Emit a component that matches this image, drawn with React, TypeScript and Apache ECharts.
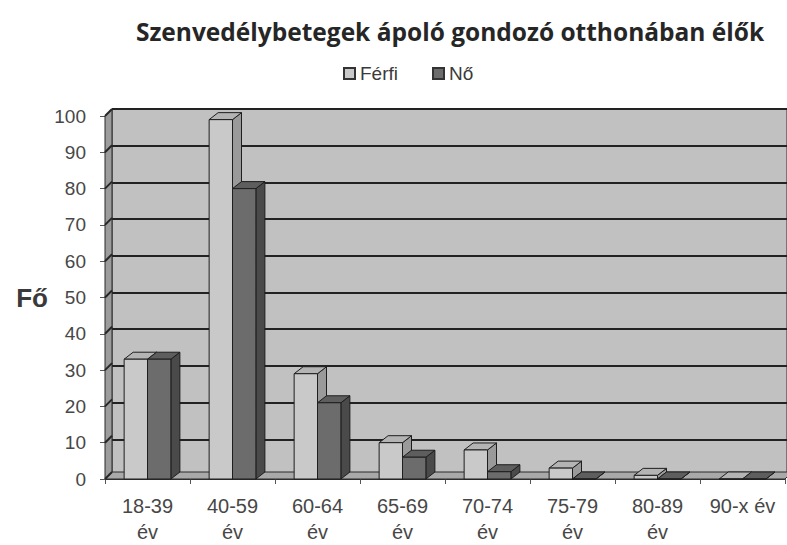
import React, { useEffect, useRef } from "react";
import * as echarts from "echarts";

const TITLE = "Szenvedélybetegek ápoló gondozó otthonában élők";
const CATEGORIES = ["18-39\név", "40-59\név", "60-64\név", "65-69\név", "70-74\név", "75-79\név", "80-89\név", "90-x év"];
const SERIES_NAMES = ["Férfi", "Nő"];
const FERFI = [33, 99, 29, 10, 8, 3, 1, 0];
const NO = [33, 80, 21, 6, 2, 0, 0, 0];
const Y_TICKS = [0, 10, 20, 30, 40, 50, 60, 70, 80, 90, 100];

const WALL_DX = 7;
const WALL_DY = -7;
const BAR_DX = 9;
const BAR_DY = -7;

function barRenderer(side: number, front: string, top: string, sideCol: string) {
  return (params: any, api: any) => {
    const idx = api.value(0);
    const val = api.value(1);
    const base = api.coord([idx, 0]);
    const tp = api.coord([idx, val]);
    const band = api.size([1, 0])[0];
    const w = band * 0.275;
    const left = side < 0 ? base[0] - w : base[0];
    const right = left + w;
    const y0 = base[1];
    const y1 = tp[1];
    const stroke = { stroke: "#1e1e1e", lineWidth: 1 };
    return {
      type: "group",
      children: [
        {
          type: "polygon",
          shape: { points: [[right, y1], [right + BAR_DX, y1 + BAR_DY], [right + BAR_DX, y0 + BAR_DY], [right, y0]] },
          style: { fill: sideCol, ...stroke },
        },
        {
          type: "polygon",
          shape: { points: [[left, y1], [right, y1], [right + BAR_DX, y1 + BAR_DY], [left + BAR_DX, y1 + BAR_DY]] },
          style: { fill: top, ...stroke },
        },
        {
          type: "rect",
          shape: { x: left, y: y1, width: w, height: Math.max(0, y0 - y1) },
          style: { fill: front, ...stroke },
        },
      ],
    };
  };
}

function wallRenderer(params: any, api: any) {
  const cs = params.coordSys;
  const x0 = cs.x;
  const yTop = cs.y;
  const yBot = cs.y + cs.height;
  const x1 = cs.x + cs.width;
  const children: any[] = [
    {
      type: "polygon",
      shape: { points: [[x0, yTop], [x0 + WALL_DX, yTop + WALL_DY], [x0 + WALL_DX, yBot + WALL_DY], [x0, yBot]] },
      style: { fill: "#9c9c9c", stroke: "#2a2a2a", lineWidth: 1 },
    },
    {
      type: "polygon",
      shape: { points: [[x0, yBot], [x1, yBot], [x1 + WALL_DX, yBot + WALL_DY], [x0 + WALL_DX, yBot + WALL_DY]] },
      style: { fill: "#a9a9a9", stroke: "#2a2a2a", lineWidth: 1 },
    },
  ];
  Y_TICKS.forEach((v) => {
    const p = api.coord([0, v]);
    children.push({
      type: "line",
      shape: { x1: x0, y1: p[1], x2: x0 + WALL_DX, y2: p[1] + WALL_DY },
      style: { stroke: "#262626", lineWidth: 2 },
    });
  });
  return { type: "group", children };
}

export default function App() {
  const ref = useRef<HTMLDivElement>(null);
  useEffect(() => {
    if (!ref.current) return;
    const chart = echarts.init(ref.current, null, { renderer: "svg" });
    const labelColor = "#474747";
    const font = "'Liberation Sans', Arial, sans-serif";
    chart.setOption({
      animation: false,
      backgroundColor: "#ffffff",
      title: {
        text: TITLE,
        left: 445,
        top: 14,
        textAlign: "center",
        textStyle: { fontFamily: "'Open Sans', sans-serif", fontWeight: "bold", fontSize: 24.5, color: "#262626" },
      },
      legend: {
        left: 338,
        top: 59,
        itemWidth: 11,
        itemHeight: 11,
        itemGap: 34,
        icon: "rect",
        textStyle: { fontFamily: font, fontSize: 19, color: "#3a3a3a" },
        data: SERIES_NAMES,
      },
      grid: [
        { left: 105, right: 2, top: 116, bottom: 62, containLabel: false },
        {
          left: 105 + WALL_DX,
          right: 2 - WALL_DX,
          top: 116 + WALL_DY,
          bottom: 62 - WALL_DY,
          show: true,
          backgroundColor: "#c1c1c1",
          borderWidth: 1,
          borderColor: "#2a2a2a",
        },
      ],
      xAxis: [
        {
          gridIndex: 0,
          type: "category",
          data: CATEGORIES,
          axisLine: { show: true, lineStyle: { color: "#333", width: 1 } },
          axisTick: { show: true, length: 5, lineStyle: { color: "#555" } },
          axisLabel: { color: labelColor, fontFamily: font, fontSize: 20, lineHeight: 26, margin: 14, interval: 0 },
          splitLine: { show: false },
        },
        { gridIndex: 1, type: "category", data: CATEGORIES, show: false },
      ],
      yAxis: [
        {
          gridIndex: 0,
          type: "value",
          min: 0,
          max: 100,
          interval: 10,
          name: "Fő",
          nameLocation: "middle",
          nameRotate: 0,
          nameGap: 57,
          nameTextStyle: { fontFamily: font, fontWeight: "bold", fontSize: 26, color: "#3a3a3a" },
          axisLine: { show: true, lineStyle: { color: "#333", width: 1 } },
          axisTick: { show: true, length: 5, lineStyle: { color: "#555" } },
          axisLabel: { color: labelColor, fontFamily: font, fontSize: 19, margin: 19 },
          splitLine: { show: false },
        },
        {
          gridIndex: 1,
          type: "value",
          min: 0,
          max: 100,
          interval: 10,
          axisLine: { show: false },
          axisTick: { show: false },
          axisLabel: { show: false },
          splitLine: { show: true, lineStyle: { color: "#222222", width: 2 } },
        },
      ],
      series: [
        {
          type: "custom",
          name: "walls",
          xAxisIndex: 0,
          yAxisIndex: 0,
          silent: true,
          clip: false,
          z: 1,
          renderItem: wallRenderer,
          data: [[0, 0]],
        },
        {
          type: "custom",
          name: SERIES_NAMES[0],
          xAxisIndex: 0,
          yAxisIndex: 0,
          clip: false,
          z: 3,
          itemStyle: { color: "#c9c9c9", borderColor: "#333", borderWidth: 1 },
          renderItem: barRenderer(-1, "#c9c9c9", "#b4b4b4", "#9a9a9a"),
          data: FERFI.map((v, i) => [i, v]),
        },
        {
          type: "custom",
          name: SERIES_NAMES[1],
          xAxisIndex: 0,
          yAxisIndex: 0,
          clip: false,
          z: 4,
          itemStyle: { color: "#6c6c6c", borderColor: "#333", borderWidth: 1 },
          renderItem: barRenderer(1, "#6c6c6c", "#5e5e5e", "#4a4a4a"),
          data: NO.map((v, i) => [i, v]),
        },
      ],
    });
    return () => chart.dispose();
  }, []);
  return <div ref={ref} style={{ position: "fixed", left: 0, top: 0, width: 787, height: 545 }} />;
}
